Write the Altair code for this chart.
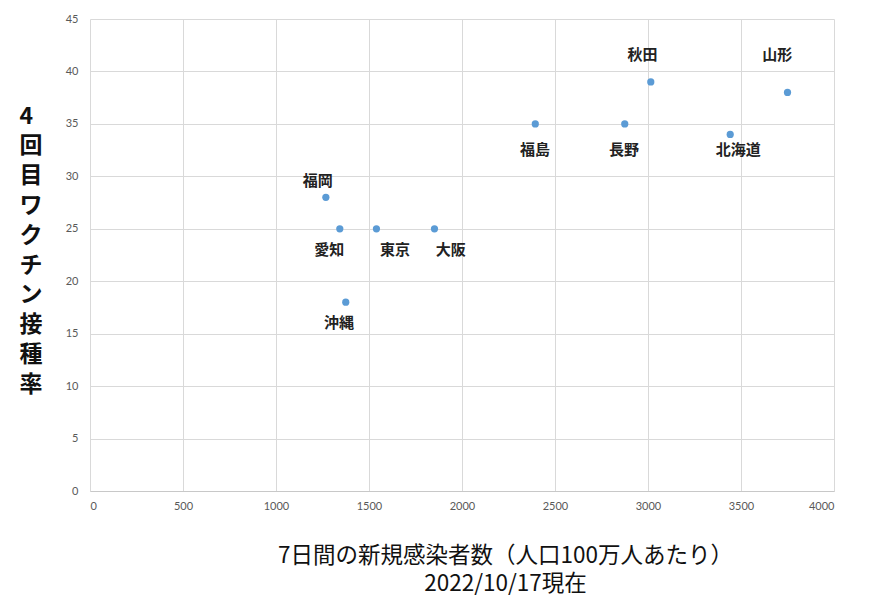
import altair as alt
import pandas as pd

# Data
prefectures = ["福岡", "愛知", "沖縄", "東京", "大阪", "福島", "長野", "秋田", "北海道", "山形"]
new_cases = [1268, 1343, 1375, 1540, 1852, 2394, 2875, 3015, 3442, 3750]
vaccine_rate = [28, 25, 18, 25, 25, 35, 35, 39, 34, 38]
# label anchor positions (data units), as placed in the original
label_x = [1224, 1286, 1339, 1640, 1939, 2392, 2871, 2971, 3485, 3695]
label_y = [29.6, 23.0, 16.0, 23.0, 23.0, 32.5, 32.5, 41.6, 32.5, 41.6]

x_title = ["7日間の新規感染者数（人口100万人あたり）", "2022/10/17現在"]
y_title = ["4", "回", "目", "ワ", "ク", "チ", "ン", "接", "種", "率"]

df = pd.DataFrame({
    "pref": prefectures,
    "cases": new_cases,
    "rate": vaccine_rate,
    "lx": label_x,
    "ly": label_y,
})

JP = "Noto Sans CJK JP"

x_enc = alt.X(
    "cases:Q",
    scale=alt.Scale(domain=[0, 4000], nice=False, zero=True),
    axis=alt.Axis(
        values=list(range(0, 4001, 500)),
        format="d",
        title=x_title,
        titleFont=JP,
        titleFontSize=22.5,
        titleFontWeight="normal",
        titleColor="#111111",
        titleLineHeight=28,
        titleAnchor="start",
        titleAlign="center",
        titleBaseline="top",
        titleX=415,
        titleY=53,
        labelFont="Lato",
        labelFontSize=11,
        labelColor="#595959",
        labelPadding=9,
        ticks=False,
        domain=True,
        domainColor="#c8c8c8",
        domainWidth=1,
        grid=True,
        gridColor="#d9d9d9",
        gridWidth=1,
    ),
)

y_enc = alt.Y(
    "rate:Q",
    scale=alt.Scale(domain=[0, 45], nice=False, zero=True),
    axis=alt.Axis(
        values=list(range(0, 46, 5)),
        format="d",
        title=y_title,
        titleFont=JP,
        titleFontSize=23,
        titleFontWeight="bold",
        titleColor="#111111",
        titleAngle=0,
        titleLineHeight=29.8,
        titleAlign="left",
        titleBaseline="top",
        titleAnchor="start",
        titleX=-71,
        titleY=86,
        labelFont="Lato",
        labelFontSize=11,
        labelColor="#595959",
        labelPadding=12,
        ticks=False,
        domain=False,
        grid=True,
        gridColor="#d9d9d9",
        gridWidth=1,
    ),
)

points = alt.Chart(df).mark_circle(size=52, color="#5B9BD5", opacity=1).encode(
    x=x_enc,
    y=y_enc,
)

labels = alt.Chart(df).mark_text(
    font=JP,
    fontSize=15,
    fontWeight="bold",
    color="#222222",
    align="center",
    baseline="middle",
).encode(
    x=alt.X("lx:Q"),
    y=alt.Y("ly:Q"),
    text="pref:N",
)

chart = (
    alt.layer(points, labels)
    .properties(
        width=744,
        height=472,
        autosize=alt.AutoSizeParams(type="none"),
        padding={"left": 82, "top": 11, "right": 40, "bottom": 110},
        background="white",
    )
    .configure_view(stroke=None)
)

chart.save("out.html", embed_options={"renderer": "svg", "actions": False})
